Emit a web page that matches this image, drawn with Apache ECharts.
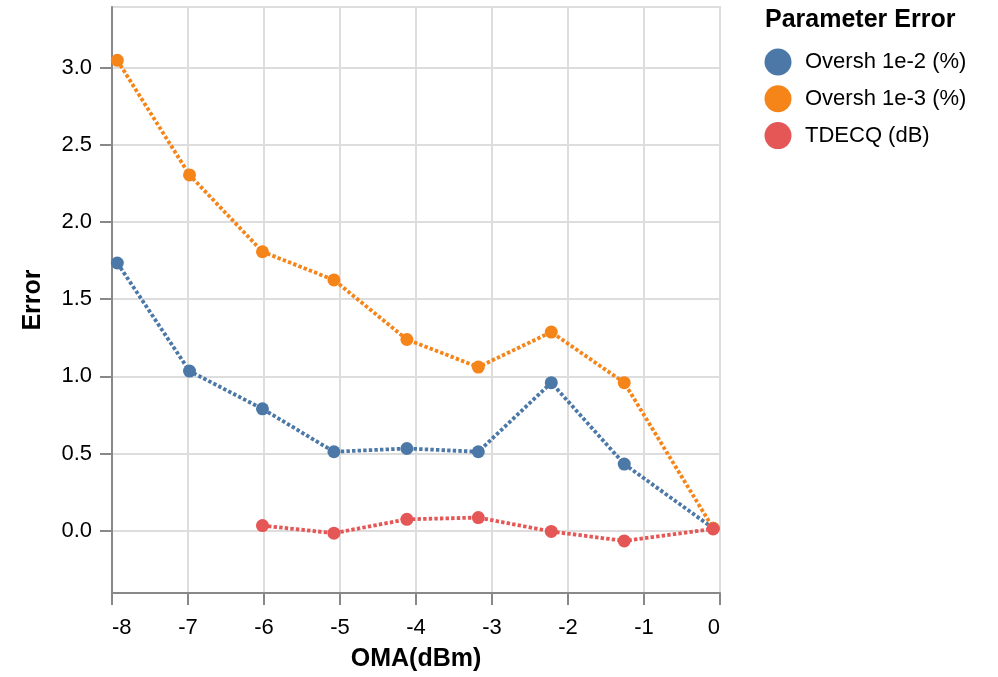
<!DOCTYPE html>
<html>
<head>
<meta charset="utf-8">
<script src="https://cdn.jsdelivr.net/npm/echarts@6/dist/echarts.min.js"></script>
<style>
html,body{margin:0;padding:0;background:#fff;}
#chart{width:998px;height:677px;}
</style>
</head>
<body>
<div id="chart"></div>
<script>
// OMA (dBm) positions of the measurements
var oma = [-7.93, -6.98, -6.02, -5.08, -4.12, -3.18, -2.22, -1.26, -0.09];
// Series values (null = not measured)
var overshoot1e2 = [1.735, 1.034, 0.789, 0.511, 0.532, 0.511, 0.959, 0.431, 0.015];
var overshoot1e3 = [3.049, 2.306, 1.808, 1.625, 1.239, 1.060, 1.287, 0.959, 0.015];
var tdecq = [null, null, 0.032, -0.017, 0.073, 0.084, -0.006, -0.067, 0.010];
var seriesNames = ['Oversh 1e-2 (%)', 'Oversh 1e-3 (%)', 'TDECQ (dB)'];
var yTicks = [0, 0.5, 1.0, 1.5, 2.0, 2.5, 3.0];
var xTicks = [-8, -7, -6, -5, -4, -3, -2, -1, 0];
var legendTitle = 'Parameter Error';
var xTitle = 'OMA(dBm)';
var yTitle = 'Error';

var colors = ['#4c78a8', '#f58518', '#e45756'];
var FONT = '"Liberation Sans", Arial, sans-serif';

function pairs(vals) {
  var out = [];
  for (var i = 0; i < oma.length; i++) {
    if (vals[i] !== null && vals[i] !== undefined) out.push([oma[i], vals[i]]);
  }
  return out;
}

var allVals = [overshoot1e2, overshoot1e3, tdecq];
var series = allVals.map(function (v, i) {
  return {
    name: seriesNames[i],
    type: 'line',
    data: pairs(v),
    symbol: 'circle',
    symbolSize: 13,
    showSymbol: true,
    itemStyle: { color: colors[i], borderWidth: 0, opacity: 1 },
    lineStyle: { color: colors[i], width: 3.8, type: [3.4, 2.2] },
    emphasis: { disabled: true },
    animation: false,
    z: 2 + i
  };
});

var chart = echarts.init(document.getElementById('chart'), null, { renderer: 'canvas' });
chart.setOption({
  backgroundColor: '#fff',
  animation: false,
  color: colors,
  title: {
    text: legendTitle,
    left: 765,
    top: 8,
    padding: 0,
    textStyle: { fontFamily: FONT, fontSize: 25, fontWeight: 'bold', color: '#000' }
  },
  legend: {
    orient: 'vertical',
    left: 764.5,
    top: 48.5,
    padding: 0,
    itemWidth: 44,
    itemHeight: 27,
    itemGap: 9.8,
    icon: 'circle',
    data: seriesNames,
    textStyle: { fontFamily: FONT, fontSize: 22, color: '#000' },
    selectedMode: false
  },
  grid: {
    left: 112, right: 278, top: 7, bottom: 82,
    show: true, borderColor: '#ddd', borderWidth: 2, backgroundColor: 'transparent'
  },
  xAxis: {
    type: 'value',
    min: xTicks[0],
    max: xTicks[xTicks.length - 1],
    interval: 1,
    name: xTitle,
    nameLocation: 'middle',
    nameGap: 54,
    nameTextStyle: { fontFamily: FONT, fontSize: 25, fontWeight: 'bold', color: '#000' },
    axisLine: { show: true, onZero: false, lineStyle: { color: '#888', width: 2 } },
    axisTick: { show: true, length: 12, lineStyle: { color: '#888', width: 2 } },
    axisLabel: {
      margin: 24, fontFamily: FONT, fontSize: 22, color: '#000',
      alignMinLabel: 'left', alignMaxLabel: 'right'
    },
    splitLine: { show: true, lineStyle: { color: '#ddd', width: 2 } }
  },
  yAxis: {
    type: 'value',
    min: -0.405,
    max: 3.395,
    name: yTitle,
    nameLocation: 'middle',
    nameGap: 66,
    nameRotate: 90,
    nameTextStyle: { fontFamily: FONT, fontSize: 25, fontWeight: 'bold', color: '#000' },
    axisLine: { show: true, onZero: false, lineStyle: { color: '#888', width: 2 } },
    axisTick: { show: true, length: 12, customValues: yTicks, lineStyle: { color: '#888', width: 2 } },
    axisLabel: {
      margin: 20, fontFamily: FONT, fontSize: 22, color: '#000',
      customValues: yTicks,
      formatter: function (v) { return v.toFixed(1); }
    },
    splitLine: { show: true, lineStyle: { color: '#ddd', width: 2 } }
  },
  series: series
});
</script>
</body>
</html>
